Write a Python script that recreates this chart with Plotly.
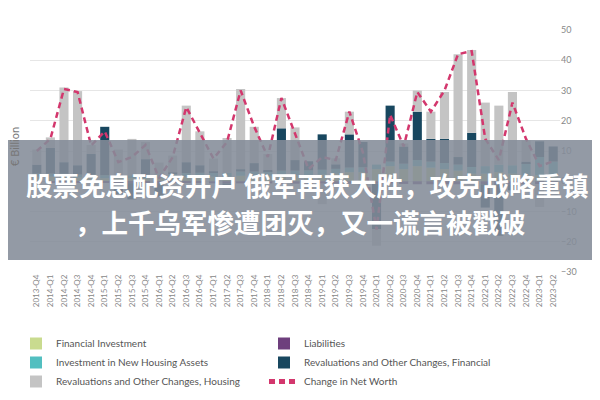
import plotly.graph_objects as go

quarters = ["2013-Q4",
            "2014-Q1", "2014-Q2", "2014-Q3", "2014-Q4",
            "2015-Q1", "2015-Q2", "2015-Q3", "2015-Q4",
            "2016-Q1", "2016-Q2", "2016-Q3", "2016-Q4",
            "2017-Q1", "2017-Q2", "2017-Q3", "2017-Q4",
            "2018-Q1", "2018-Q2", "2018-Q3", "2018-Q4",
            "2019-Q1", "2019-Q2", "2019-Q3", "2019-Q4",
            "2020-Q1", "2020-Q2", "2020-Q3", "2020-Q4",
            "2021-Q1", "2021-Q2", "2021-Q3", "2021-Q4",
            "2022-Q1", "2022-Q2", "2022-Q3", "2022-Q4",
            "2023-Q1", "2023-Q2"]

financial_investment = [1.5, 1.5, 1.5, 1.2, 1.2, 1.0, 1.0, 1.0, 1.0, 1.0,
                        1.2, 1.5, 1.5, 1.5, 1.5, 1.8, 1.8, 1.8, 2.0, 2.0,
                        2.0, 2.2, 2.5, 3.0, 3.0, 4.0, 5.0, 4.0, 5.0, 4.5,
                        4.0, 3.5, 2.5, 2.5, 3.0, 2.5, 2.0, 2.0, 1.5]
liabilities = [-0.5, -0.5, -0.5, -0.5, -0.5, -0.5, -0.6, -0.6, -0.6, -0.6,
               -0.6, -0.6, -0.6, -0.7, -0.7, -0.7, -0.7, -0.7, -0.8, -0.8,
               -0.8, -0.8, -0.8, -0.8, -1.0, -0.8, -0.8, -0.9, -1.0, -1.0,
               -1.0, -1.0, -1.0, -1.0, -1.0, -1.0, -1.0, -1.0, -1.0]
housing_investment = [1.0, 1.0, 1.0, 1.0, 1.0, 1.0, 1.0, 1.0, 1.2, 1.2,
                      1.2, 1.2, 1.3, 1.3, 1.3, 1.4, 1.4, 1.5, 1.5, 1.5,
                      1.6, 1.6, 1.6, 1.5, 1.6, 1.5, 1.5, 1.8, 2.0, 2.0,
                      2.0, 2.0, 2.2, 2.5, 2.5, 2.8, 4.0, 6.0, 5.0]
reval_financial = [3.0, 8.5, 3.8, 3.1, 6.8, 16.0, -3.6, -5.4, 5.1, -4.5,
                   0.5, 3.6, 2.5, 0.5, -1.0, 0.8, 2.8, 0.5, 14.0, 3.5,
                   3.0, 11.7, 1.5, 11.0, 8.4, -15.0, 18.5, 5.7, 16.0, 7.5,
                   8.0, 2.5, 11.3, -7.7, -17.0, -2.0, 0.5, 5.2, 5.0]
reval_housing = [5.0, 3.5, 24.7, 24.5, 3.0, 0.0, 8.5, 12.0, 5.7, 4.0,
                 5.6, 18.7, 11.2, 4.2, 11.5, 26.5, 12.0, 5.2, 10.0, 10.8,
                 -2.5, -6.8, 2.0, 7.5, -2.0, -5.5, -2.0, 1.0, 7.0, 9.0,
                 15.5, 34.0, 27.4, 21.0, 19.5, 24.2, 7.0, -7.5, -4.0]
net_worth = [10.0, 14.0, 30.5, 29.5, 11.8, 16.5, 6.3, 8.0, 12.0, 1.0,
             8.0, 24.5, 16.0, 7.5, 13.0, 30.0, 18.0, 8.0, 27.5, 16.0,
             4.0, 8.0, 7.0, 23.0, 9.5, -16.0, 22.0, 11.5, 29.5, 23.0,
             30.0, 42.0, 43.0, 14.0, 7.0, 26.0, 14.0, 5.0, 6.6]

y_ticks = [-30, -20, -10, 0, 10, 20, 30, 40, 50]

bar_series = [
    ("Financial Investment", financial_investment, "#c9db8f"),
    ("Liabilities", liabilities, "#6e3f7d"),
    ("Investment in New Housing Assets", housing_investment, "#52bfc0"),
    ("Revaluations and Other Changes, Financial", reval_financial, "#18475f"),
    ("Revaluations and Other Changes, Housing", reval_housing, "#c4c4c4"),
]

fig = go.Figure()
for name, vals, col in bar_series:
    fig.add_trace(go.Bar(x=quarters, y=vals, name=name, marker_color=col,
                         marker_line_width=0))
fig.add_trace(go.Scatter(x=quarters, y=net_worth, name="Change in Net Worth",
                         mode="lines",
                         line=dict(color="#d3376d", width=2.5, dash="6px,4px")))

# page is offset by 8px; plot area on screen: x 30..560, y 30..272
def px_x(x):
    return (x - 30) / 530.0

def px_y(y):
    return (272 - y) / 242.0

OFF = 8

fig.update_layout(
    width=600, height=400,
    margin=dict(l=30 - OFF, r=600 - 560 + OFF, t=30 - OFF, b=400 - 272 + OFF,
                autoexpand=False),
    barmode="relative", bargap=0.33,
    plot_bgcolor="white", paper_bgcolor="white",
    font=dict(family="Lato, sans-serif", color="#666", size=11),
    xaxis=dict(type="category", range=[-0.5, 38.5], tickangle=-90,
               tickfont=dict(size=8, color="#888"), showgrid=False,
               ticks="", showline=False, automargin=False),
    yaxis=dict(range=[-30, 50], tickvals=y_ticks, side="right",
               gridcolor="#e6e6e6", gridwidth=1, zeroline=False,
               tickfont=dict(size=9, color="#888"), ticks="",
               automargin=False),
    legend=dict(orientation="h", xref="container", yref="container",
                x=(16 - OFF) / 600, xanchor="left",
                y=1 - (329 - OFF) / 400, yanchor="top",
                entrywidth=203, entrywidthmode="pixels",
                font=dict(size=10, color="#555"), tracegroupgap=0,
                itemsizing="constant", traceorder="normal"),
    showlegend=True,
)

fig.add_annotation(text="€ Billion", xref="paper", yref="paper",
                   x=px_x(14), y=px_y(147), xanchor="center", yanchor="middle",
                   showarrow=False, textangle=-90,
                   font=dict(size=11, color="#777"))

# overlay banner
fig.add_shape(type="rect", xref="paper", yref="paper",
              x0=px_x(-2), x1=px_x(602), y0=px_y(260), y1=px_y(140),
              fillcolor="rgba(132,140,152,0.88)", line_width=0, layer="above")
cjk = "Noto Sans CJK SC"
fig.add_annotation(text="<b>股票免息配资开户 俄军再获大胜，攻克战略重镇</b>",
                   xref="paper", yref="paper", x=px_x(307), y=px_y(184),
                   xanchor="center", yanchor="middle",
                   showarrow=False, font=dict(family=cjk, size=26.5, color="white"))
fig.add_annotation(text="<b>，上千乌军惨遭团灭，又一谎言被戳破</b>",
                   xref="paper", yref="paper", x=px_x(300), y=px_y(221),
                   xanchor="center", yanchor="middle",
                   showarrow=False, font=dict(family=cjk, size=26.5, color="white"))

fig.write_html("out.html")
